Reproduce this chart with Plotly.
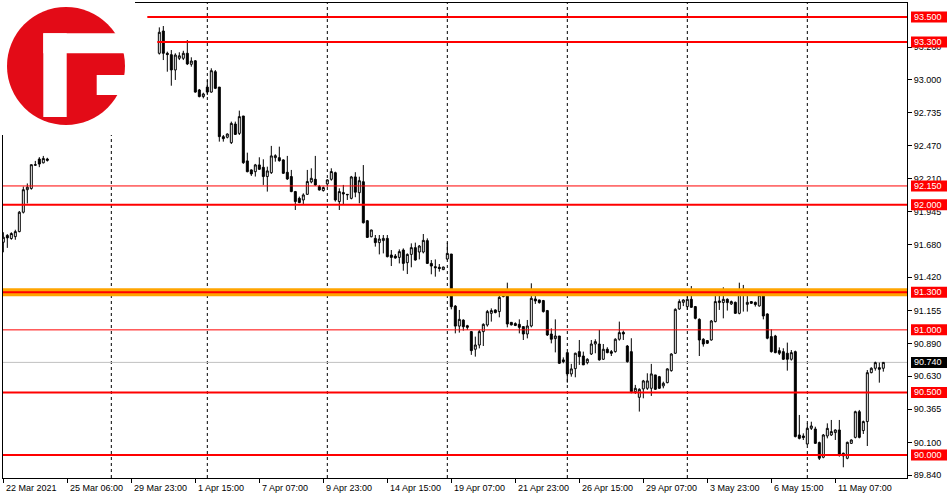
import plotly.graph_objects as go

# ---------------- data (H4 bars, index = bar number) ----------------
bar_index = list(range(0, 12)) + list(range(39, 221))

opens = [
    91.70, 91.755, 91.73, 91.745, 91.785, 91.94, 92.12, 92.13, 92.315, 92.365, 92.335, 92.365,
    93.21, 93.388, 93.21, 93.199, 93.077, 93.17, 93.17, 93.21, 93.122, 93.15,
    92.917, 92.864, 92.94, 92.90, 93.063, 92.94, 92.544, 92.539, 92.496, 92.645,
    92.57, 92.709, 92.35, 92.278, 92.264, 92.318, 92.299, 92.225, 92.256, 92.376,
    92.376, 92.358, 92.259, 92.225, 92.105, 92.051, 92.038, 92.083, 92.182, 92.203,
    92.145, 92.113, 92.166, 92.203, 92.256, 92.025, 92.097, 92.083, 92.051, 92.222,
    92.096, 92.184, 91.872, 91.744, 91.731, 91.697, 91.713, 91.731, 91.598, 91.59,
    91.579, 91.638, 91.537, 91.603, 91.657, 91.622, 91.622, 91.713, 91.531, 91.505,
    91.50, 91.481, 91.566, 91.606, 91.19, 91.03, 91.078, 91.033, 90.986, 90.845,
    90.879, 90.986, 91.039, 91.132, 91.159, 91.146, 91.266, 91.292, 91.06, 91.05,
    91.044, 91.026, 90.967, 91.031, 91.247, 91.239, 91.234, 91.154, 90.967, 90.93,
    90.951, 90.76, 90.818, 90.648, 90.69, 90.826, 90.791, 90.738, 90.807, 90.887,
    90.887, 90.765, 90.845, 90.826, 90.826, 90.925, 90.98, 90.871, 90.826, 90.506,
    90.461, 90.528, 90.533, 90.533, 90.64, 90.626, 90.552, 90.578, 90.674, 90.813,
    91.167, 91.22, 91.186, 91.244, 91.186, 91.084, 90.925, 90.914, 90.919, 91.066,
    91.218, 91.218, 91.244, 91.207, 91.22, 91.132, 91.324, 91.204, 91.226, 91.22,
    91.191, 91.271, 91.127, 90.946, 90.951, 90.834, 90.826, 90.813, 90.765, 90.826,
    90.16, 90.152, 90.088, 90.213, 90.208, 90.099, 89.982, 90.152, 90.16, 90.179,
    90.20, 90.014, 89.974, 90.093, 90.141, 90.346, 90.195, 90.267, 90.658, 90.693,
    90.698, 90.693,
]
highs = [
    91.78, 91.765, 91.78, 91.80, 91.95, 92.145, 92.17, 92.32, 92.35, 92.38, 92.39, 92.375,
    93.417, 93.428, 93.223, 93.236, 93.21, 93.218, 93.23, 93.316, 93.178, 93.156,
    92.925, 92.895, 92.996, 93.09, 93.076, 92.94, 92.557, 92.57, 92.664, 92.664,
    92.752, 92.709, 92.416, 92.283, 92.326, 92.379, 92.363, 92.304, 92.47, 92.403,
    92.464, 92.363, 92.39, 92.278, 92.11, 92.065, 92.091, 92.278, 92.291, 92.39,
    92.158, 92.145, 92.203, 92.291, 92.264, 92.131, 92.158, 92.085, 92.23, 92.26,
    92.224, 92.317, 91.878, 91.80, 91.758, 91.758, 91.758, 91.758, 91.638, 91.606,
    91.643, 91.651, 91.611, 91.691, 91.697, 91.678, 91.766, 91.731, 91.558, 91.563,
    91.526, 91.505, 91.697, 91.606, 91.198, 91.159, 91.084, 91.04, 90.991, 90.946,
    90.999, 91.052, 91.159, 91.172, 91.164, 91.319, 91.319, 91.377, 91.06, 91.06,
    91.084, 91.026, 91.079, 91.372, 91.319, 91.24, 91.239, 91.159, 91.012, 91.084,
    90.951, 90.78, 90.818, 90.728, 90.818, 90.919, 90.826, 90.773, 90.919, 90.925,
    90.999, 90.887, 90.861, 90.839, 90.933, 91.066, 90.994, 90.879, 90.933, 90.56,
    90.533, 90.60, 90.653, 90.728, 90.64, 90.632, 90.586, 90.693, 90.813, 91.172,
    91.244, 91.244, 91.319, 91.35, 91.191, 91.092, 90.933, 90.919, 91.079, 91.279,
    91.324, 91.34, 91.252, 91.234, 91.226, 91.377, 91.359, 91.297, 91.23, 91.226,
    91.324, 91.279, 91.132, 91.004, 90.96, 90.86, 90.853, 90.898, 90.839, 90.834,
    90.32, 90.173, 90.253, 90.266, 90.226, 90.107, 90.168, 90.253, 90.28, 90.205,
    90.28, 90.019, 90.107, 90.125, 90.354, 90.36, 90.275, 90.679, 90.701, 90.746,
    90.738, 90.738,
]
lows = [
    91.62, 91.655, 91.72, 91.72, 91.78, 91.93, 92.01, 92.12, 92.31, 92.30, 92.33, 92.345,
    93.20, 93.156, 93.063, 92.951, 92.997, 93.156, 93.156, 93.116, 93.103, 92.895,
    92.858, 92.85, 92.877, 92.895, 92.924, 92.504, 92.504, 92.53, 92.485, 92.557,
    92.557, 92.326, 92.259, 92.23, 92.225, 92.278, 92.158, 92.105, 92.246, 92.344,
    92.344, 92.246, 92.198, 92.10, 91.958, 92.012, 92.006, 92.078, 92.171, 92.152,
    92.113, 92.105, 92.145, 92.192, 92.025, 91.958, 92.0, 92.038, 92.043, 92.06,
    92.011, 91.85, 91.734, 91.74, 91.665, 91.603, 91.611, 91.579, 91.51, 91.569,
    91.531, 91.473, 91.446, 91.50, 91.553, 91.563, 91.611, 91.526, 91.444, 91.425,
    91.465, 91.478, 91.558, 91.164, 90.972, 90.978, 90.994, 91.0, 90.80, 90.786,
    90.852, 90.871, 91.026, 91.066, 91.132, 91.10, 91.26, 91.02, 91.035, 91.03,
    90.972, 90.919, 90.932, 91.02, 91.207, 91.21, 91.138, 90.951, 90.892, 90.82,
    90.727, 90.733, 90.578, 90.626, 90.621, 90.72, 90.72, 90.725, 90.799, 90.813,
    90.754, 90.76, 90.813, 90.791, 90.818, 90.914, 90.919, 90.738, 90.493, 90.488,
    90.347, 90.453, 90.52, 90.472, 90.52, 90.528, 90.533, 90.573, 90.666, 90.807,
    91.16, 91.19, 91.16, 91.175, 91.084, 90.791, 90.866, 90.887, 90.914, 91.06,
    91.159, 91.092, 91.154, 91.199, 91.127, 91.124, 91.146, 91.146, 91.207, 91.186,
    91.186, 91.084, 90.925, 90.818, 90.813, 90.799, 90.759, 90.674, 90.754, 90.141,
    90.125, 90.12, 90.08, 90.20, 90.088, 89.96, 89.974, 90.133, 90.152, 90.12,
    89.987, 89.902, 89.966, 90.088, 90.133, 90.133, 90.168, 90.072, 90.653, 90.674,
    90.578, 90.666,
]
closes = [
    91.74, 91.735, 91.77, 91.785, 91.94, 92.12, 92.14, 92.32, 92.32, 92.325, 92.37, 92.355,
    93.378, 93.21, 93.20, 93.077, 93.196, 93.19, 93.21, 93.125, 93.148, 92.90,
    92.864, 92.885, 92.90, 93.071, 92.93, 92.544, 92.528, 92.565, 92.65, 92.562,
    92.704, 92.336, 92.264, 92.246, 92.318, 92.283, 92.225, 92.27, 92.39, 92.392,
    92.352, 92.251, 92.206, 92.105, 92.025, 92.017, 92.078, 92.185, 92.211, 92.158,
    92.118, 92.137, 92.198, 92.265, 92.038, 92.105, 92.086, 92.08, 92.222, 92.10,
    92.192, 91.856, 91.739, 91.798, 91.697, 91.726, 91.731, 91.585, 91.579, 91.574,
    91.625, 91.531, 91.603, 91.657, 91.558, 91.67, 91.715, 91.531, 91.51, 91.497,
    91.49, 91.502, 91.611, 91.185, 91.03, 91.084, 91.025, 91.02, 90.834, 90.879,
    90.986, 91.044, 91.146, 91.154, 91.138, 91.26, 91.287, 91.047, 91.04, 91.035,
    91.02, 90.967, 91.031, 91.252, 91.231, 91.218, 91.146, 90.959, 90.925, 90.951,
    90.733, 90.746, 90.648, 90.688, 90.813, 90.786, 90.72, 90.765, 90.887, 90.906,
    90.76, 90.845, 90.818, 90.813, 90.925, 90.978, 90.967, 90.746, 90.506, 90.533,
    90.525, 90.592, 90.592, 90.648, 90.525, 90.533, 90.573, 90.688, 90.807, 91.164,
    91.226, 91.239, 91.244, 91.18, 91.092, 90.919, 90.887, 90.893, 91.071, 91.226,
    91.231, 91.244, 91.218, 91.226, 91.132, 91.313, 91.292, 91.22, 91.212, 91.202,
    91.279, 91.111, 90.933, 90.826, 90.818, 90.813, 90.765, 90.765, 90.818, 90.147,
    90.133, 90.139, 90.213, 90.232, 90.093, 89.974, 90.16, 90.213, 90.187, 90.20,
    90.0, 89.993, 90.101, 90.12, 90.346, 90.141, 90.267, 90.658, 90.693, 90.738,
    90.685, 90.74,
]

# time-axis labels (bar index -> label)
time_tick_index = [0, 16, 32, 48, 64, 80, 96, 112, 128, 144, 160, 176, 192, 208]
time_tick_text = ["22 Mar 2021", "25 Mar 06:00", "29 Mar 23:00", "1 Apr 15:00", "7 Apr 07:00",
                  "9 Apr 23:00", "14 Apr 15:00", "19 Apr 07:00", "21 Apr 23:00", "26 Apr 15:00",
                  "29 Apr 07:00", "3 May 23:00", "6 May 15:00", "11 May 07:00"]

# vertical period separators (bar index)
separator_index = [27, 51, 81, 111, 141, 171, 201]

# price scale ticks
price_ticks = [93.26, 93.0, 92.735, 92.47, 92.21, 91.945, 91.68, 91.42, 91.155,
               90.89, 90.63, 90.365, 90.10, 89.84]

# horizontal levels
level_prices = [93.5, 93.3, 92.15, 92.0, 91.3, 91.0, 90.5, 90.0]
level_widths = [2, 2, 1, 2, 2, 1, 2, 2]
level_start_index = [36, 38.5, None, None, None, None, None, None]
zone_price = 91.3
current_price = 90.74

X_MIN, X_MAX = -0.08, 225.92
Y_MIN, Y_MAX = 89.8162, 93.6119
FONT = "Liberation Sans"
RED = "#FF0000"

fig = go.Figure()
fig.add_trace(go.Candlestick(
    x=bar_index, open=opens, high=highs, low=lows, close=closes,
    increasing=dict(line=dict(color="black", width=1), fillcolor="white"),
    decreasing=dict(line=dict(color="black", width=1), fillcolor="black"),
    whiskerwidth=0, showlegend=False, hoverinfo="skip",
))

shapes = []
for xi in separator_index:
    shapes.append(dict(type="line", xref="x", yref="paper", x0=xi, x1=xi, y0=0, y1=1,
                       line=dict(color="black", width=1, dash="3px,3px"), layer="below"))

# orange zone
shapes.append(dict(type="line", xref="paper", yref="y", x0=0, x1=1, y0=zone_price, y1=zone_price,
                   line=dict(color="#FFA500", width=8), layer="above"))
# current price line
shapes.append(dict(type="line", xref="paper", yref="y", x0=0, x1=1, y0=current_price, y1=current_price,
                   line=dict(color="#C0C0C0", width=1), layer="below"))
for p, w, s in zip(level_prices, level_widths, level_start_index):
    if s is None:
        shapes.append(dict(type="line", xref="paper", yref="y", x0=0, x1=1, y0=p, y1=p,
                           line=dict(color=RED, width=w), layer="above"))
    else:
        shapes.append(dict(type="line", xref="x", yref="y", x0=s, x1=X_MAX, y0=p, y1=p,
                           line=dict(color=RED, width=w), layer="above"))

# price label boxes on the right scale
annotations = []
for p, col in [(v, RED) for v in level_prices] + [(current_price, "black")]:
    shapes.append(dict(type="rect", xref="paper", xsizemode="pixel", xanchor=1, x0=4, x1=40,
                       yref="y", ysizemode="pixel", yanchor=p, y0=-5.5, y1=5.5,
                       fillcolor=col, line=dict(width=0), layer="above"))
    annotations.append(dict(xref="paper", x=1, xanchor="left", xshift=5, yref="y", y=p,
                            yanchor="middle", text=f"{p:.3f}", showarrow=False,
                            font=dict(family=FONT, size=9, color="white")))

# white overlay in top-left corner + logo
shapes.append(dict(type="rect", xref="paper", xsizemode="pixel", xanchor=0, x0=-3, x1=132,
                   yref="paper", ysizemode="pixel", yanchor=1, y0=3, y1=-132,
                   fillcolor="white", line=dict(width=0), layer="above"))
shapes.append(dict(type="circle", xref="paper", xsizemode="pixel", xanchor=0, x0=4, x1=122,
                   yref="paper", ysizemode="pixel", yanchor=1, y0=-4, y1=-122,
                   fillcolor="#E30B17", line=dict(width=0), layer="above"))
for (ax0, ax1, ay0, ay1) in [(40.3, 63.7, -30.3, -114), (40.3, 127, -30.3, -50.3), (93.7, 127, -72, -92)]:
    shapes.append(dict(type="rect", xref="paper", xsizemode="pixel", xanchor=0, x0=ax0, x1=ax1,
                       yref="paper", ysizemode="pixel", yanchor=1, y0=ay0, y1=ay1,
                       fillcolor="white", line=dict(width=0), layer="above"))

for xi, t in zip(time_tick_index, time_tick_text):
    annotations.append(dict(xref="x", x=xi, xanchor="left", xshift=1, yref="paper", y=0,
                            yanchor="top", yshift=-3, text=t, showarrow=False,
                            font=dict(family=FONT, size=9, color="black")))

fig.update_layout(
    width=950, height=500,
    margin=dict(l=3, r=43, t=3, b=22),
    paper_bgcolor="white", plot_bgcolor="white",
    shapes=shapes, annotations=annotations,
    showlegend=False,
    font=dict(family=FONT, size=9, color="black"),
    xaxis=dict(range=[X_MIN, X_MAX], rangeslider=dict(visible=False), showgrid=False,
               zeroline=False, showline=True, linecolor="black", linewidth=1, mirror=True,
               tickvals=time_tick_index, ticktext=[""] * len(time_tick_index),
               ticks="outside", ticklen=4, tickcolor="black", showticklabels=False),
    yaxis=dict(range=[Y_MIN, Y_MAX], side="right", showgrid=False, zeroline=False,
               showline=True, linecolor="black", linewidth=1, mirror=True,
               tickvals=price_ticks, ticktext=[f"{v:.3f}" for v in price_ticks],
               ticks="outside", ticklen=4, tickcolor="black",
               tickfont=dict(family=FONT, size=9, color="black")),
)

fig.write_html(
    "out.html",
    config={"displayModeBar": False},
    post_script="document.body.style.margin='0px';document.body.style.overflow='hidden';",
)
